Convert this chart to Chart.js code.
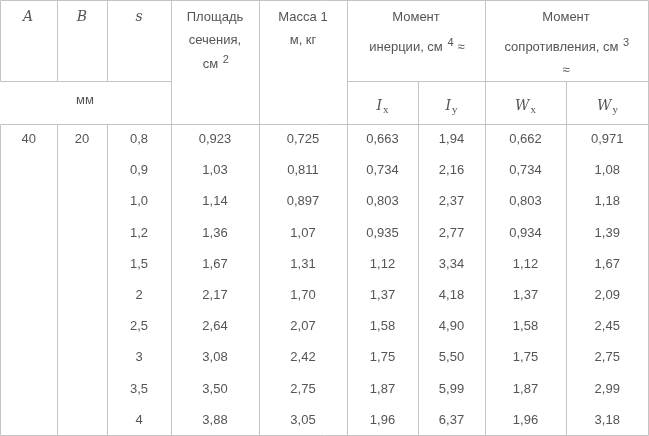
<!DOCTYPE html>
<html><head><meta charset="utf-8">
<script src="https://cdn.jsdelivr.net/npm/chart.js@4/dist/chart.umd.min.js"></script>
<style>html,body{margin:0;padding:0;background:#fff}canvas{display:block}</style>
</head><body>
<canvas id="c" width="649" height="436"></canvas>
<script>
const colA=["40","","","","","","","","",""];
const colB=["20","","","","","","","","",""];
const colS=["0,8","0,9","1,0","1,2","1,5","2","2,5","3","3,5","4"];
const area=["0,923","1,03","1,14","1,36","1,67","2,17","2,64","3,08","3,50","3,88"];
const mass=["0,725","0,811","0,897","1,07","1,31","1,70","2,07","2,42","2,75","3,05"];
const Ix=["0,663","0,734","0,803","0,935","1,12","1,37","1,58","1,75","1,87","1,96"];
const Iy=["1,94","2,16","2,37","2,77","3,34","4,18","4,90","5,50","5,99","6,37"];
const Wx=["0,662","0,734","0,803","0,934","1,12","1,37","1,58","1,75","1,87","1,96"];
const Wy=["0,971","1,08","1,18","1,39","1,67","2,09","2,45","2,75","2,99","3,18"];
const columns=[colA,colB,colS,area,mass,Ix,Iy,Wx,Wy];

// layout (pixel units of the scales)
const edges=[0.5,57,107,171,259,347,418,485,566,648.5];
const rowTop=124, rowH=31.2;
const color='#555', line='#c4c4c4';

const tablePlugin={id:'table',afterDraw(ch){
  const ctx=ch.ctx, X=ch.scales.x, Y=ch.scales.y;
  const px=v=>X.getPixelForValue(v), py=v=>Y.getPixelForValue(v);
  ctx.save();
  ctx.strokeStyle=line; ctx.lineWidth=1;
  const L=(x1,y1,x2,y2)=>{ctx.beginPath();ctx.moveTo(Math.round(px(x1))+.5,Math.round(py(y1))+.5);ctx.lineTo(Math.round(px(x2))+.5,Math.round(py(y2))+.5);ctx.stroke();};
  L(0,0,648,0); L(0,81,171,81); L(347,81,648,81); L(0,124,648,124); L(0,435,648,435);
  [0,57,107].forEach(x=>{L(x,0,x,81);L(x,124,x,435);});
  [171,259,347,485,648].forEach(x=>L(x,0,x,435));
  [418,566].forEach(x=>L(x,81,x,435));
  ctx.fillStyle=color; ctx.textBaseline='middle'; ctx.textAlign='center';
  const F='13px "Liberation Sans", Arial, sans-serif';
  const T=(s,x,y,f)=>{ctx.font=f||F;ctx.fillText(s,px(x),py(y));};
  // text with superscript
  const TS=(s,sup,x,y,after)=>{ctx.font=F;const w1=ctx.measureText(s).width;ctx.font='10px "Liberation Sans", Arial';const w2=ctx.measureText(sup).width;
    ctx.font=F;const wa=after?ctx.measureText(after).width:0;const tot=w1+w2+wa;let sx=px(x)-tot/2;
    ctx.textAlign='left';ctx.fillText(s,sx,py(y));ctx.font='11px "Liberation Sans", Arial';ctx.fillText(sup,sx+w1+1,py(y)-4);
    if(after){ctx.font=F;ctx.fillText(after,sx+w1+w2+2,py(y));}ctx.textAlign='center';};
  const I='italic 14px "DejaVu Serif", "Liberation Serif", serif';
  T('A',28,17,I);T('B',82,17,I);T('s',139,17,I);
  T('Площадь',215,17);T('сечения,',215,40);TS('см ','2',215,64);
  T('Масса 1',303,17);T('м, кг',303,40);
  T('Момент',416,17);TS('инерции, см ','4',416,47,' ≈');
  T('Момент',566,17);TS('сопротивления, см ','3',566,47);T('≈',566,70);
  T('мм',85,100);
  const SUB=(m,sub,x,y)=>{ctx.font=I;const w=ctx.measureText(m).width;ctx.font='11px "Liberation Serif", serif';const w2=ctx.measureText(sub).width;
    const sx=px(x)-(w+w2)/2;ctx.textAlign='left';ctx.font=I;ctx.fillText(m,sx,py(y));ctx.font='11px "Liberation Serif", serif';ctx.fillText(sub,sx+w+1,py(y)+4);ctx.textAlign='center';};
  SUB('I','x',382,106);SUB('I','y',451,106);SUB('W','x',525,106);SUB('W','y',607,106);
  columns.forEach((col,ci)=>{const cx=(edges[ci]+edges[ci+1])/2;
    col.forEach((v,ri)=>{if(v)T(v,cx,rowTop+rowH*ri+15.5);});});
  ctx.restore();
}};

new Chart(document.getElementById('c'),{
  type:'scatter',
  data:{datasets:[{data:[]}]},
  options:{responsive:false,animation:false,devicePixelRatio:1,
    layout:{padding:0},
    plugins:{legend:{display:false},tooltip:{enabled:false}},
    scales:{x:{type:'linear',min:0,max:649,display:false},
            y:{type:'linear',min:0,max:436,reverse:true,display:false}}},
  plugins:[tablePlugin]
});
</script>
</body></html>
